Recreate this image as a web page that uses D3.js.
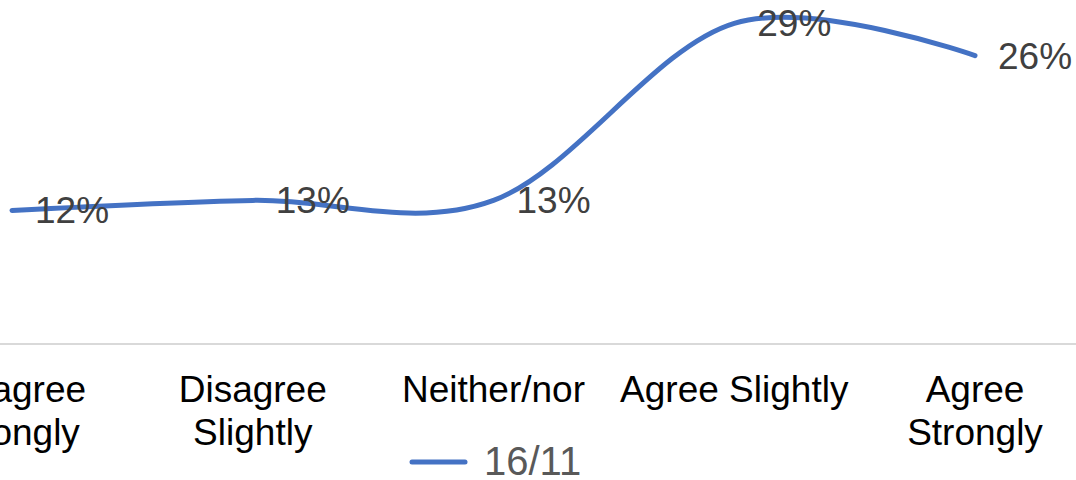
<!DOCTYPE html>
<html>
<head>
<meta charset="utf-8">
<script src="https://cdn.jsdelivr.net/npm/d3@7"></script>
<style>
  html, body { margin: 0; padding: 0; background: #fff; overflow: hidden; }
  svg { display: block; font-family: "Liberation Sans", Arial, sans-serif; }
</style>
</head>
<body>
<svg id="chart" width="1076" height="480"></svg>
<script>
const categories = ["Disagree Strongly", "Disagree Slightly", "Neither/nor", "Agree Slightly", "Agree Strongly"];
const seriesName = "16/11";
const values = [12.0, 12.9, 12.9, 28.8, 25.9];
const valueLabels = ["12%", "13%", "13%", "29%", "26%"];

const svg = d3.select("#chart");

const x = d3.scalePoint().domain(categories).range([12, 975]);
const y = d3.scaleLinear().domain([0, 30]).range([344, 10]);

// axis line
const axisG = svg.append("g").attr("transform", `translate(0,${y(0)})`);
const xAxis = d3.axisBottom(x).tickSize(0).tickPadding(0).tickFormat("");
axisG.call(xAxis);
axisG.select(".domain").attr("d", `M-130,0H1200`).attr("stroke", "#D9D9D9").attr("stroke-width", 2);

// category labels, wrapped
const labelG = svg.append("g");
categories.forEach(c => {
  const t = labelG.append("text")
    .attr("x", x(c)).attr("y", 402)
    .attr("text-anchor", "middle")
    .attr("font-size", 37).attr("fill", "#000");
  const ts = t.append("tspan").attr("x", x(c)).text(c);
  if (ts.node().getComputedTextLength() > 235) {
    const words = c.split(" ");
    ts.text(words[0]);
    t.append("tspan").attr("x", x(c)).attr("dy", 42.5).text(words.slice(1).join(" "));
  }
});

// line
const line = d3.line()
  .x((d, i) => x(categories[i]))
  .y(d => y(d))
  .curve(d3.curveCardinal.tension(0));

svg.append("path")
  .datum(values)
  .attr("d", line)
  .attr("fill", "none")
  .attr("stroke", "#4472C4")
  .attr("stroke-width", 5)
  .attr("stroke-linecap", "round")
  .attr("stroke-linejoin", "round");

// data labels
svg.append("g").selectAll("text")
  .data(values)
  .join("text")
  .attr("x", (d, i) => x(categories[i]) + 23)
  .attr("y", d => y(d) + 13)
  .attr("font-size", 37)
  .attr("fill", "#404040")
  .text((d, i) => valueLabels[i]);

// legend
const lg = svg.append("g");
lg.append("line")
  .attr("x1", 412).attr("x2", 465)
  .attr("y1", 462).attr("y2", 462)
  .attr("stroke", "#4472C4").attr("stroke-width", 5)
  .attr("stroke-linecap", "round");
lg.append("text")
  .attr("x", 484).attr("y", 475)
  .attr("font-size", 40)
  .attr("fill", "#595959")
  .text(seriesName);
</script>
</body>
</html>
